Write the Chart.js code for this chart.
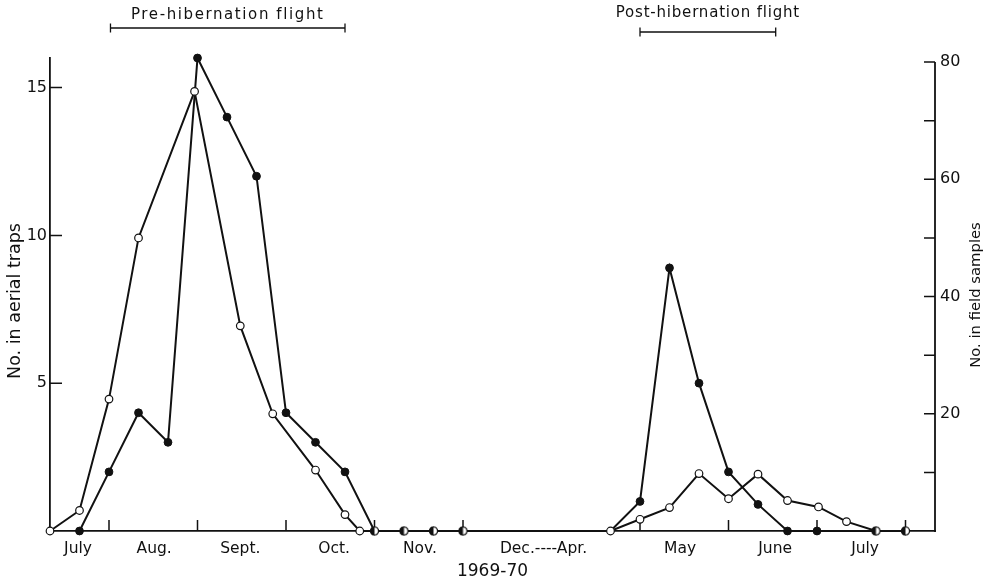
<!DOCTYPE html>
<html><head><meta charset="utf-8">
<script src="https://cdn.jsdelivr.net/npm/chart.js@4.4.0/dist/chart.umd.min.js"></script>
<style>html,body{margin:0;padding:0;background:#fff;overflow:hidden;}</style>
</head><body>
<canvas id="c" width="998" height="584"></canvas>
<script>
// ---- data ----
const aerialX = [1,2,3,4,5,6,7,8,9,10,11,12,13,14,19,20,21,22,23,24,25,26,28,29];
const aerialY = [0,2,4,3,16,14,12,4,3,2,0,0,0,0,0,1,8.9,5,2,0.9,0,0,0,0];
const fieldX = [0,1,2,3,4.9,6.45,7.55,9,10,10.5,11,12,13,14,19,20,21,22,23,24,25,26.05,27,28,29];
const fieldY = [0,3.5,22.5,50,75,35,20,10.4,2.8,0,0,0,0,0,0,2,4,9.8,5.5,9.7,5.2,4.1,1.6,0,0];
const monthLabels = ['July','Aug.','Sept.','Oct.','Nov.','Dec.----Apr.','May','June','July'];
const monthLabelPos = [0.95,3.53,6.45,9.63,12.54,16.73,21.36,24.58,27.63];
const monthTickPos = [2,5,8,11,14,20,23,26,29];
const leftTicks = [5,10,15];
const rightTicks = [10,20,30,40,50,60,70,80];
const rightLabels = [20,40,60,80];
const bothZeroX = [11,12,13,14,28,29];
const hiddenAerialX = [19];
const flightPeriods = [
  {label:'Pre-hibernation flight', from:2.05, to:10.0},
  {label:'Post-hibernation flight', from:20.0, to:24.6}
];
const xTitle = '1969-70';
const leftTitle = 'No. in aerial traps';
const rightTitle = 'No. in field samples';

const FONT = '"DejaVu Sans", sans-serif';
const INK = '#111';

// half-filled marker (both series zero)
const half = document.createElement('canvas');
half.width = 11; half.height = 11;
(function(){
  const g = half.getContext('2d');
  g.fillStyle = '#fff'; g.beginPath(); g.arc(5.5,5.5,4,0,Math.PI*2); g.fill();
  g.fillStyle = INK; g.beginPath(); g.arc(5.5,5.5,4,Math.PI/2,Math.PI*1.5); g.closePath(); g.fill();
  g.strokeStyle = INK; g.lineWidth = 1.2; g.beginPath(); g.arc(5.5,5.5,4,0,Math.PI*2); g.stroke();
})();

const decor = {
  id: 'decor',
  beforeDatasetsDraw(chart){
    const {ctx, chartArea:a, scales:{x, y, y2}} = chart;
    ctx.save();
    ctx.strokeStyle = INK; ctx.lineWidth = 1.5;
    ctx.beginPath();
    monthTickPos.forEach(v => { const px = x.getPixelForValue(v); ctx.moveTo(px, a.bottom); ctx.lineTo(px, a.bottom - 11); });
    leftTicks.forEach(v => { const py = y.getPixelForValue(v); ctx.moveTo(a.left, py); ctx.lineTo(a.left + 12, py); });
    rightTicks.forEach(v => { const py = y2.getPixelForValue(v); ctx.moveTo(a.right, py); ctx.lineTo(a.right - 11, py); });
    ctx.stroke();
    ctx.lineWidth = 1.8;
    ctx.beginPath();
    ctx.moveTo(a.right, y2.getPixelForValue(rightTicks[rightTicks.length-1]));
    ctx.lineTo(a.right, a.bottom + 1);
    ctx.stroke();
    ctx.restore();
  },
  afterDraw(chart){
    const {ctx, scales:{x}} = chart;
    ctx.save();
    ctx.fillStyle = INK; ctx.strokeStyle = INK;
    const conf = [
      {lineY:28, textY:18.5, spacing:'1.6px', cap:4.5},
      {lineY:32, textY:17, spacing:'0.8px', cap:4.5}
    ];
    flightPeriods.forEach((p, i) => {
      const c = conf[i];
      const x1 = x.getPixelForValue(p.from), x2 = x.getPixelForValue(p.to);
      ctx.lineWidth = 1.3;
      ctx.beginPath();
      ctx.moveTo(x1, c.lineY); ctx.lineTo(x2, c.lineY);
      ctx.moveTo(x1, c.lineY - c.cap); ctx.lineTo(x1, c.lineY + c.cap);
      ctx.moveTo(x2, c.lineY - c.cap); ctx.lineTo(x2, c.lineY + c.cap);
      ctx.stroke();
      ctx.font = '15px ' + FONT;
      try { ctx.letterSpacing = c.spacing; } catch(e) {}
      ctx.textAlign = 'center'; ctx.textBaseline = 'alphabetic';
      ctx.fillText(p.label, (x1 + x2) / 2, c.textY);
      try { ctx.letterSpacing = '0px'; } catch(e) {}
    });
    ctx.textAlign = 'center'; ctx.textBaseline = 'middle';
    ctx.font = '17.5px ' + FONT;
    ctx.save(); ctx.translate(15, 301); ctx.rotate(-Math.PI/2); ctx.fillText(leftTitle, 0, 0); ctx.restore();
    ctx.font = '14.8px ' + FONT;
    ctx.save(); ctx.translate(976, 295); ctx.rotate(-Math.PI/2); ctx.fillText(rightTitle, 0, 0); ctx.restore();
    ctx.restore();
  }
};

new Chart(document.getElementById('c'), {
  type: 'line',
  data: {
    datasets: [
      {
        label: 'Field samples',
        yAxisID: 'y2',
        data: fieldX.map((v, i) => ({x: v, y: fieldY[i]})),
        borderColor: INK, borderWidth: 2, tension: 0, clip: false,
        pointBackgroundColor: '#fff', pointBorderColor: INK, pointBorderWidth: 1.2, pointRadius: 3.8,
        pointStyle: (c) => (c.raw && bothZeroX.includes(c.raw.x)) ? half : 'circle'
      },
      {
        label: 'Aerial traps',
        yAxisID: 'y',
        data: aerialX.map((v, i) => ({x: v, y: aerialY[i]})),
        borderColor: INK, borderWidth: 2, tension: 0, clip: false,
        pointBackgroundColor: INK, pointBorderColor: INK, pointBorderWidth: 1,
        pointRadius: (c) => (c.raw && hiddenAerialX.includes(c.raw.x)) ? 0 : 3.9
      }
    ]
  },
  options: {
    responsive: false, animation: false, devicePixelRatio: 1,
    layout: {padding: {top: 58, left: 0, right: 0, bottom: 0}},
    plugins: {legend: {display: false}, tooltip: {enabled: false}},
    scales: {
      x: {
        type: 'linear', min: 0, max: 30,
        afterFit(s){ s.height = 53; },
        afterBuildTicks(s){ s.ticks = monthLabelPos.map(v => ({value: v})); },
        grid: {display: false, drawTicks: false},
        border: {display: true, color: INK, width: 1.8},
        ticks: {autoSkip: false, maxRotation: 0, padding: 9, color: INK,
          font: {family: FONT, size: 15.5},
          callback: (v, i) => monthLabels[i]},
        title: {display: true, text: xTitle, color: INK, font: {family: FONT, size: 17}, padding: {top: 0, bottom: 2}}
      },
      y: {
        position: 'left', min: 0, max: 16,
        afterFit(s){ s.width = 50; },
        afterBuildTicks(s){ s.ticks = leftTicks.map(v => ({value: v})); },
        grid: {display: false, drawTicks: false},
        border: {display: true, color: INK, width: 1.8},
        ticks: {padding: 3, color: INK, font: {family: FONT, size: 16}}
      },
      y2: {
        position: 'right', min: 0, max: 80.7,
        afterFit(s){ s.width = 63; },
        afterBuildTicks(s){ s.ticks = rightTicks.map(v => ({value: v})); },
        grid: {display: false, drawTicks: false},
        border: {display: false},
        ticks: {padding: 5, color: INK, font: {family: FONT, size: 16},
          callback: (v) => rightLabels.includes(v) ? String(v) : ''}
      }
    }
  },
  plugins: [decor]
});
</script>
</body></html>
